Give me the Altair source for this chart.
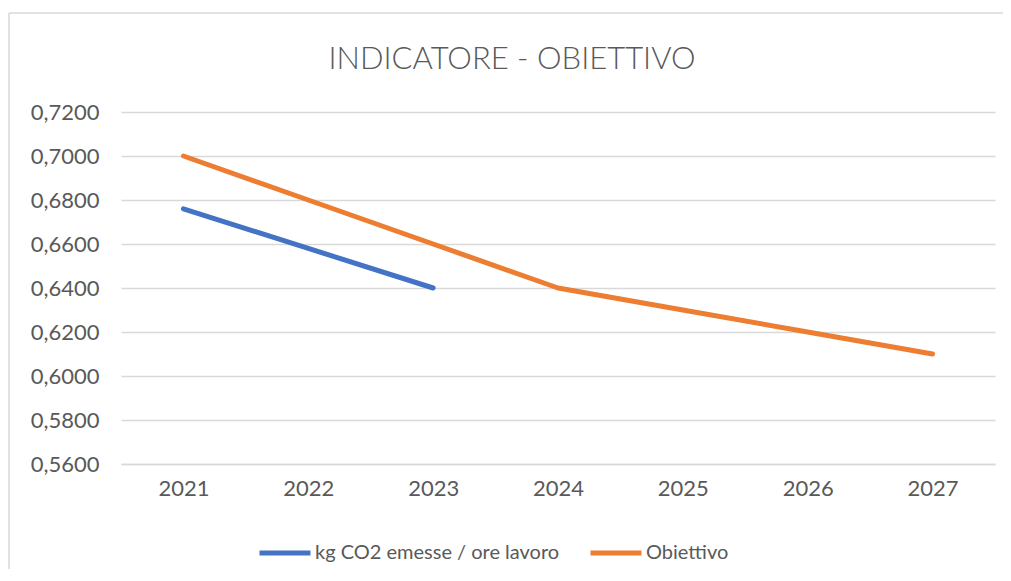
import altair as alt
import pandas as pd

years = ["2021", "2022", "2023", "2024", "2025", "2026", "2027"]
series_a_name = "kg CO2 emesse / ore lavoro"
series_a_years = ["2021", "2022", "2023"]
series_a_values = [0.676, 0.658, 0.640]
series_b_name = "Obiettivo"
series_b_values = [0.700, 0.680, 0.660, 0.640, 0.630, 0.620, 0.610]
y_ticks = [0.56, 0.58, 0.60, 0.62, 0.64, 0.66, 0.68, 0.70, 0.72]
title_text = "INDICATORE - OBIETTIVO"

rows = [{"anno": y, "valore": v, "serie": series_a_name} for y, v in zip(series_a_years, series_a_values)]
rows += [{"anno": y, "valore": v, "serie": series_b_name} for y, v in zip(years, series_b_values)]
df = pd.DataFrame(rows)

TXT = "#595959"
GRID = "#D9D9D9"
FONT = "Lato"

lines = alt.Chart(df).mark_line(strokeWidth=5, strokeCap="round", strokeJoin="round").encode(
    x=alt.X("anno:O", sort=years, scale=alt.Scale(domain=years, padding=0.5),
            axis=alt.Axis(title=None, labelAngle=0, ticks=False, domain=True, domainColor=GRID,
                          domainWidth=1.5, grid=False, labelFontSize=22, labelColor=TXT,
                          labelFont=FONT, labelPadding=14)),
    y=alt.Y("valore:Q", scale=alt.Scale(domain=[0.56, 0.72], nice=False, zero=False),
            axis=alt.Axis(title=None, values=y_ticks, ticks=False, domain=False, grid=True,
                          gridColor=GRID, gridWidth=1.5, labelFontSize=22, labelColor=TXT,
                          labelFont=FONT, labelPadding=22,
                          labelExpr="replace(format(datum.value, '.4f'), '.', ',')")),
    color=alt.Color("serie:N",
                    scale=alt.Scale(domain=[series_a_name, series_b_name], range=["#4472C4", "#ED7D31"]),
                    legend=alt.Legend(title=None, orient="none", direction="horizontal",
                                      legendX=136, legendY=413, symbolType="stroke",
                                      symbolSize=2600, symbolStrokeWidth=5, labelFontSize=20,
                                      labelColor=TXT, labelFont=FONT, labelOffset=2,
                                      labelLimit=0, columnPadding=20)),
)

border_df = pd.DataFrame({"k": [0]})
border_left = alt.Chart(border_df).mark_rule(color=GRID, strokeWidth=1.5).encode(
    x=alt.value(-112), y=alt.value(-99), y2=alt.value(470))
border_top = alt.Chart(border_df).mark_rule(color=GRID, strokeWidth=1.5).encode(
    x=alt.value(-112), x2=alt.value(890), y=alt.value(-99))

chart = alt.layer(border_left, border_top, lines).properties(
    width=874, height=352,
    padding={"left": 113, "top": 104, "right": 8, "bottom": 105},
    autosize=alt.AutoSizeParams(type="none"),
    title=alt.TitleParams(title_text, fontSize=31, font=FONT, fontWeight=300, color=TXT,
                          anchor="middle", dx=-46, dy=100, offset=36),
).configure_view(stroke=None)

chart.save("out.html", embed_options={"renderer": "svg", "actions": False})
